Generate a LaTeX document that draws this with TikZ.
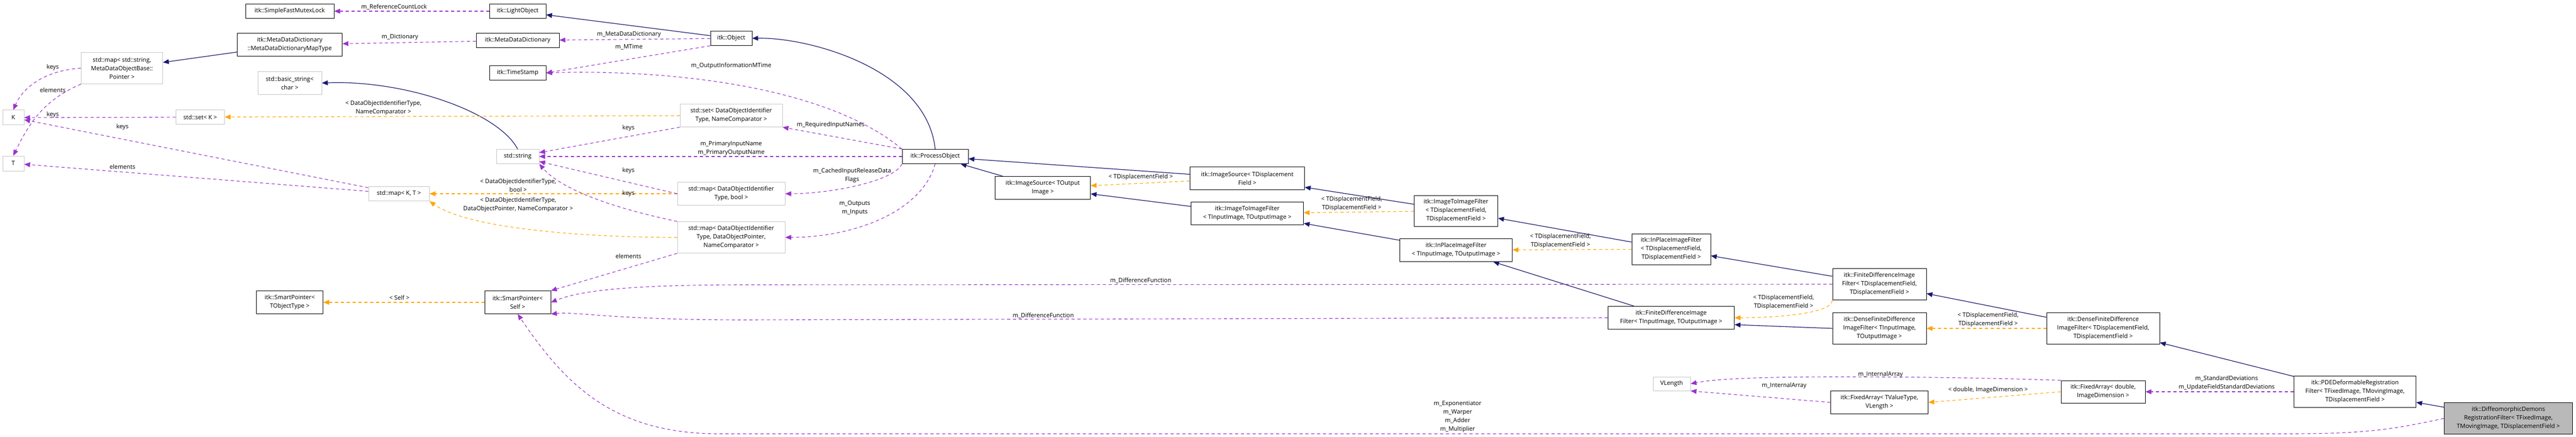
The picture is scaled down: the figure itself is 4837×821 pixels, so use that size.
\documentclass[tikz,border=0pt]{standalone}
\usepackage{fontspec}
\setmainfont{Open Sans}
\usetikzlibrary{arrows.meta}
\definecolor{navy}{HTML}{191970}
\definecolor{purp}{HTML}{9A32CD}
\definecolor{orng}{HTML}{FFA500}
\begin{document}
\begin{tikzpicture}[x=1pt,y=1pt,
  every node/.style={font=\fontsize{11.2}{16}\selectfont, align=center},
  cls/.style={draw=black, line width=1pt, fill=white, inner sep=0pt},
  ext/.style={draw=gray!45, line width=1pt, fill=white, inner sep=0pt},
  lbl/.style={inner sep=0pt, fill=none},
  inh/.style={navy, line width=1.2pt, -{Triangle[length=11pt,width=9pt]}},
  use/.style={purp, line width=1.1pt, dash pattern=on 6pt off 5pt, -{Triangle[length=11pt,width=9pt]}},
  tmpl/.style={orng, line width=1.1pt, dash pattern=on 6pt off 5pt, -{Triangle[length=11pt,width=9pt]}}]
\useasboundingbox (0,0) rectangle (4837,-821);
% nodes
\node[cls,minimum width=166,minimum height=27] (sfml) at (544,-21) {itk::SimpleFastMutexLock};
\node[cls,minimum width=197,minimum height=43] (mddmt) at (544,-84) {itk::MetaDataDictionary\\::MetaDataDictionaryMapType};
\node[ext,minimum width=153,minimum height=59] (mapstr) at (229,-128) {std::map< std::string,\\ MetaDataObjectBase::\\Pointer >};
\node[ext,minimum width=120,minimum height=43] (bstr) at (544,-156) {std::basic\_string<\\ char >};
\node[ext,minimum width=40,minimum height=28] (K) at (25,-221) {K};
\node[ext,minimum width=40,minimum height=28] (T) at (25,-307) {T};
\node[ext,minimum width=91,minimum height=27] (setK) at (376,-220) {std::set< K >};
\node[cls,minimum width=125,minimum height=43] (spT) at (544,-568) {itk::SmartPointer<\\ TObjectType >};
\node[cls,minimum width=106,minimum height=27] (light) at (972,-21) {itk::LightObject};
\node[cls,minimum width=156,minimum height=27] (mdd) at (972,-76) {itk::MetaDataDictionary};
\node[cls,minimum width=78,minimum height=27] (obj) at (1373,-72) {itk::Object};
\node[cls,minimum width=106,minimum height=27] (ts) at (972,-137) {itk::TimeStamp};
\node[ext,minimum width=192,minimum height=43] (setD) at (1373,-217) {std::set< DataObjectIdentifier\\Type, NameComparator >};
\node[ext,minimum width=80,minimum height=27] (str) at (972,-294) {std::string};
\node[ext,minimum width=202,minimum height=43] (mapB) at (1373,-364) {std::map< DataObjectIdentifier\\Type, bool >};
\node[ext,minimum width=114,minimum height=27] (mapKT) at (749,-364) {std::map< K, T >};
\node[ext,minimum width=202,minimum height=59] (mapD) at (1373,-446) {std::map< DataObjectIdentifier\\Type, DataObjectPointer,\\ NameComparator >};
\node[cls,minimum width=124,minimum height=43] (spS) at (972,-568) {itk::SmartPointer<\\ Self >};
\node[cls,minimum width=124,minimum height=27] (po) at (1756,-294) {itk::ProcessObject};
\node[cls,minimum width=179,minimum height=43] (isto) at (1958,-353) {itk::ImageSource< TOutput\\Image >};
\node[cls,minimum width=215,minimum height=43] (isdf) at (2342,-335) {itk::ImageSource< TDisplacement\\Field >};
\node[cls,minimum width=211,minimum height=43] (itito) at (2342,-401) {itk::ImageToImageFilter\\< TInputImage, TOutputImage >};
\node[cls,minimum width=157,minimum height=58] (itidf) at (2734,-396) {itk::ImageToImageFilter\\< TDisplacementField,\\ TDisplacementField >};
\node[cls,minimum width=211,minimum height=43] (ipto) at (2734,-470) {itk::InPlaceImageFilter\\< TInputImage, TOutputImage >};
\node[cls,minimum width=148,minimum height=58] (ipdf) at (3138,-468) {itk::InPlaceImageFilter\\< TDisplacementField,\\ TDisplacementField >};
\node[cls,minimum width=176,minimum height=59] (fddf) at (3529,-534) {itk::FiniteDifferenceImage\\Filter< TDisplacementField,\\ TDisplacementField >};
\node[cls,minimum width=237,minimum height=43] (fdto) at (3138,-597) {itk::FiniteDifferenceImage\\Filter< TInputImage, TOutputImage >};
\node[cls,minimum width=176,minimum height=59] (dfto) at (3529,-617) {itk::DenseFiniteDifference\\ImageFilter< TInputImage,\\ TOutputImage >};
\node[cls,minimum width=212,minimum height=59] (dfdf) at (3949,-617) {itk::DenseFiniteDifference\\ImageFilter< TDisplacementField,\\ TDisplacementField >};
\node[ext,minimum width=70,minimum height=26] (vl) at (3139,-721) {VLength};
\node[cls,minimum width=183,minimum height=43] (fatv) at (3529,-756) {itk::FixedArray< TValueType,\\ VLength >};
\node[cls,minimum width=158,minimum height=42] (fad) at (3949,-736) {itk::FixedArray< double,\\ ImageDimension >};
\node[cls,minimum width=229,minimum height=59] (pde) at (4422,-736) {itk::PDEDeformableRegistration\\Filter< TFixedImage, TMovingImage,\\ TDisplacementField >};
\node[cls,fill=gray!55,minimum width=241,minimum height=59] (dd) at (4710,-786) {itk::DiffeomorphicDemons\\RegistrationFilter< TFixedImage,\\ TMovingImage, TDisplacementField >};
% inheritance
\draw[inh] (mddmt) -- (mapstr);
\draw[inh] (str.north) .. controls (935,-210) and (760,-150) .. (bstr.east);
\draw[inh] (obj) -- (light);
\draw[inh] (po.north) .. controls (1740,-130) and (1520,-70) .. (obj.east);
\draw[inh] (isto) -- (po);
\draw[inh] (isdf) -- (po);
\draw[inh] (itito) -- (isto);
\draw[inh] (itidf) -- (isdf);
\draw[inh] (ipto) -- (itito);
\draw[inh] (ipdf) -- (itidf);
\draw[inh] (fdto) -- (ipto);
\draw[inh] (fddf) -- (ipdf);
\draw[inh] (dfto.west) -- (fdto.east |- 0,-610);
\draw[inh] (dfdf) -- (fddf);
\draw[inh] (pde) -- (dfdf);
\draw[inh] (dd) -- (pde);
% templates
\draw[tmpl] (setD) -- (setK);
\node[lbl] (l1) at (720,-203) {< DataObjectIdentifierType,\\ NameComparator >};
\draw[tmpl] (mapB) -- (mapKT);
\node[lbl] (l2) at (973,-348) {< DataObjectIdentifierType,\\ bool >};
\draw[tmpl] (mapD.west) .. controls (1100,-446) and (880,-430) .. (mapKT.south east);
\node[lbl] (l3) at (973,-385) {< DataObjectIdentifierType,\\ DataObjectPointer, NameComparator >};
\draw[tmpl] (spS) -- (spT);
\node[lbl] (l4) at (750,-559) {< Self >};
\draw[tmpl] (isdf) -- (isto);
\node[lbl] (l5) at (2142,-333) {< TDisplacementField >};
\draw[tmpl] (itidf) -- (itito);
\node[lbl] (l6) at (2538,-383) {< TDisplacementField,\\ TDisplacementField >};
\draw[tmpl] (ipdf) -- (ipto);
\node[lbl] (l7) at (2930,-453) {< TDisplacementField,\\ TDisplacementField >};
\draw[tmpl] (fddf.south west) .. controls (3440,-590) and (3330,-597) .. (fdto.east);
\node[lbl] (l8) at (3349,-568) {< TDisplacementField,\\ TDisplacementField >};
\draw[tmpl] (dfdf) -- (dfto);
\node[lbl] (l9) at (3733,-601) {< TDisplacementField,\\ TDisplacementField >};
\draw[tmpl] (fad.west) -- (fatv.east);
\node[lbl] (l10) at (3733,-733) {< double, ImageDimension >};
% usage
\draw[use] (light) -- (sfml);
\node[lbl] (u1) at (740,-13) {m\_ReferenceCountLock};
\draw[use] (mdd) -- (mddmt);
\node[lbl] (u2) at (751,-70) {m\_Dictionary};
\draw[use] (obj) -- (mdd);
\node[lbl] (u3) at (1181,-65) {m\_MetaDataDictionary};
\draw[use] (obj.south west) -- (ts.east);
\node[lbl] (u4) at (1181,-88) {m\_MTime};
\draw[use] (po.north west) .. controls (1550,-160) and (1250,-130) .. (ts.east);
\node[lbl] (u5) at (1373,-124) {m\_OutputInformationMTime};
\draw[use] (mapstr.west) .. controls (90,-132) and (45,-160) .. (K.north);
\node[lbl] (u6) at (99,-127) {keys};
\draw[use] (mapstr.south west) .. controls (90,-185) and (60,-220) .. (T.north);
\node[lbl] (u7) at (99,-169) {elements};
\draw[use] (setK) -- (K);
\node[lbl] (u8) at (99,-216) {keys};
\draw[use] (mapKT) -- (K);
\node[lbl] (u9) at (230,-239) {keys};
\draw[use] (mapKT) -- (T);
\node[lbl] (u10) at (230,-313) {elements};
\draw[use] (setD.south west) -- (str);
\node[lbl] (u11) at (1180,-241) {keys};
\draw[use] (po) -- (str);
\node[lbl] (u12) at (1373,-279) {m\_PrimaryInputName\\ m\_PrimaryOutputName};
\draw[use] (mapB.west) -- (str);
\node[lbl] (u13) at (1180,-321) {keys};
\draw[use] (mapD.north west) .. controls (1100,-380) and (1040,-340) .. (str.south east);
\node[lbl] (u14) at (1180,-364) {keys};
\draw[use] (po.north west) -- (setD.south east);
\node[lbl] (u15) at (1560,-235) {m\_RequiredInputNames};
\draw[use] (po.south west) .. controls (1680,-340) and (1560,-364) .. (mapB.east);
\node[lbl] (u16) at (1600,-330) {m\_CachedInputReleaseData\\ Flags};
\draw[use] (po.south) .. controls (1730,-400) and (1600,-446) .. (mapD.east);
\node[lbl] (u17) at (1605,-391) {m\_Outputs\\ m\_Inputs};
\draw[use] (mapD.south west) -- (spS.north east);
\node[lbl] (u18) at (1180,-481) {elements};
\draw[use] (fddf.west) -- (1400,-535) .. controls (1150,-535) and (1080,-550) .. (spS.east);
\node[lbl] (u19) at (2142,-527) {m\_DifferenceFunction};
\draw[use] (fdto.west) -- (1400,-601) .. controls (1150,-601) and (1080,-585) .. (spS.south east);
\node[lbl] (u20) at (1959,-593) {m\_DifferenceFunction};
\draw[use] (dd.west) .. controls (4500,-805) and (4450,-815) .. (4300,-815) -- (1350,-815) .. controls (1150,-815) and (1060,-720) .. (spS.south);
\node[lbl] (u21) at (2737,-783) {m\_Exponentiator\\ m\_Warper\\ m\_Adder\\ m\_Multiplier};
\draw[use] (fad.north west) .. controls (3800,-712) and (3650,-708) .. (3450,-708) .. controls (3300,-708) and (3220,-712) .. (vl.east);
\node[lbl] (u22) at (3531,-704) {m\_InternalArray};
\draw[use] (fatv.west) -- (vl.south east);
\node[lbl] (u23) at (3350,-725) {m\_InternalArray};
\draw[use] (pde.west) -- (fad.east);
\node[lbl] (u24) at (4181,-720) {m\_StandardDeviations\\ m\_UpdateFieldStandardDeviations};
\end{tikzpicture}
\end{document}
